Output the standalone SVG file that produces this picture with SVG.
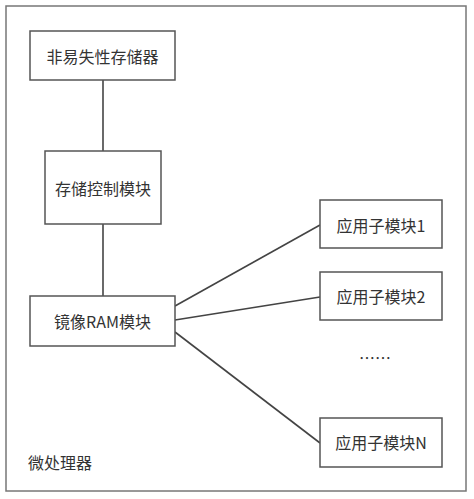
<svg xmlns="http://www.w3.org/2000/svg" width="474" height="499" viewBox="0 0 474 499">
<style>
.box{fill:#fff;stroke:#555;stroke-width:1.5}
.frame{fill:#fff;stroke:#777;stroke-width:1.5}
.t{font-family:"Noto Sans CJK SC","Liberation Sans",sans-serif;font-size:16px;fill:#333;text-anchor:middle;dominant-baseline:central}
.conn line{stroke:#444;stroke-width:1.6}
</style>
<rect width="474" height="499" fill="#fff"/>
<g id="microprocessor">
<rect class="frame" x="6" y="6" width="460" height="485"/>
<text class="t" x="28" y="462" style="text-anchor:start">微处理器</text>
</g>
<g class="conn" id="connectors">
<line x1="103" y1="80" x2="103" y2="151"/>
<line x1="103" y1="224" x2="103" y2="296"/>
<line x1="175" y1="306" x2="320" y2="225"/>
<line x1="175" y1="320" x2="320" y2="297"/>
<line x1="175" y1="332" x2="320" y2="443"/>
</g>
<g id="nvm">
<rect class="box" x="30" y="31" width="145" height="49"/>
<text class="t" x="102.5" y="56">非易失性存储器</text>
</g>
<g id="storage-ctrl">
<rect class="box" x="45" y="151" width="116" height="73"/>
<text class="t" x="103" y="188">存储控制模块</text>
</g>
<g id="mirror-ram">
<rect class="box" x="30" y="296" width="145" height="50"/>
<text class="t" x="102.5" y="321">镜像RAM模块</text>
</g>
<g id="app1">
<rect class="box" x="320" y="200" width="122" height="48"/>
<text class="t" x="381" y="225">应用子模块1</text>
</g>
<g id="app2">
<rect class="box" x="320" y="272" width="122" height="48"/>
<text class="t" x="381" y="296">应用子模块2</text>
</g>
<g id="ellipsis">
<text class="t" x="375" y="357">……</text>
</g>
<g id="appN">
<rect class="box" x="320" y="418" width="122" height="49"/>
<text class="t" x="381" y="442">应用子模块N</text>
</g>
</svg>
